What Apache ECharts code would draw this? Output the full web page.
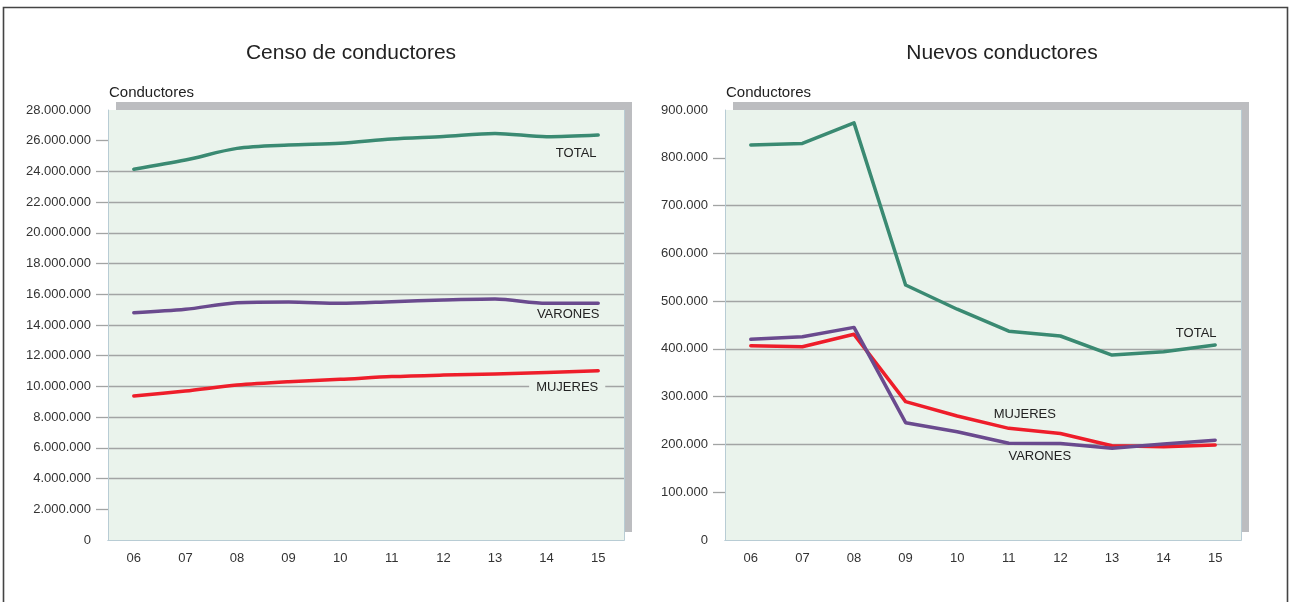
<!DOCTYPE html>
<html>
<head>
<meta charset="utf-8">
<script src="https://cdn.jsdelivr.net/npm/echarts@6/dist/echarts.min.js"></script>
<style>
html,body{margin:0;padding:0;background:#fff;}
#c{width:1290px;height:602px;}
</style>
</head>
<body>
<div id="c"></div>
<script>
// ---- data ----
const years = ['06', '07', '08', '09', '10', '11', '12', '13', '14', '15'];

const censoTotal   = [24140000, 24740000, 25500000, 25720000, 25830000, 26110000, 26270000, 26470000, 26260000, 26370000];
const censoVarones = [14800000, 15020000, 15450000, 15500000, 15410000, 15520000, 15630000, 15690000, 15410000, 15410000];
const censoMujeres = [9380000, 9700000, 10090000, 10310000, 10460000, 10640000, 10740000, 10810000, 10900000, 11020000];

const nuevosTotal   = [826700, 830000, 873000, 533700, 483000, 437000, 427000, 387000, 394000, 408000];
const nuevosVarones = [420000, 425600, 445000, 245600, 226700, 202400, 202000, 191900, 201000, 209000];
const nuevosMujeres = [406700, 404600, 430500, 289500, 259500, 233700, 223000, 197400, 195000, 198800];

const censoTicks  = [2000000, 4000000, 6000000, 8000000, 10000000, 12000000, 14000000, 16000000, 18000000, 20000000, 22000000, 24000000, 26000000];
const nuevosTicks = [100000, 200000, 300000, 400000, 500000, 600000, 700000, 800000];

const titles = ['Censo de conductores', 'Nuevos conductores'];
const axisName = 'Conductores';
const seriesNames = ['TOTAL', 'VARONES', 'MUJERES'];

// ---- style ----
const cGreen = '#3a8a72', cPurple = '#6a4a8e', cRed = '#ee1d2a';
const bg = '#eaf3ec';
const gridCol = '#a2a4a4';
const edgeCol = '#b8ccd4';
const fontFam = '"Liberation Sans", Arial, sans-serif';

function fmt(v) { return String(v).replace(/\B(?=(\d{3})+(?!\d))/g, '.'); }

function yAxis(idx, max, interval, ticks) {
  return {
    type: 'value', gridIndex: idx, min: 0, max: max, interval: interval,
    name: axisName, nameLocation: 'end', nameGap: 10,
    nameTextStyle: { align: 'left', fontSize: 15, color: '#222', fontFamily: fontFam, padding: [0, 0, 0, 1] },
    axisLine: { show: true, lineStyle: { color: edgeCol, width: 1 } },
    axisTick: { show: true, length: 12, lineStyle: { color: gridCol, width: 1.3 }, customValues: ticks },
    axisLabel: { fontSize: 13, color: '#333', fontFamily: fontFam, margin: 17, formatter: fmt },
    splitLine: { show: true, showMinLine: false, showMaxLine: false, lineStyle: { color: gridCol, width: 1.3 } },
    z: 2
  };
}
function yAxisEdge(idx, max) {
  return {
    type: 'value', gridIndex: idx, min: 0, max: max, position: 'right',
    axisLine: { show: true, lineStyle: { color: edgeCol, width: 1 } },
    axisTick: { show: false }, axisLabel: { show: false }, splitLine: { show: false }
  };
}
function xAxis(idx) {
  return {
    type: 'category', gridIndex: idx, data: years, boundaryGap: true,
    axisLine: { show: true, lineStyle: { color: edgeCol, width: 1 } }, axisTick: { show: false },
    axisLabel: { fontSize: 13, color: '#333', fontFamily: fontFam, margin: 12 },
    splitLine: { show: false }
  };
}
function xAxisEdge(idx) {
  return {
    type: 'category', gridIndex: idx, data: years, position: 'top',
    axisLine: { show: true, lineStyle: { color: edgeCol, width: 1 } },
    axisTick: { show: false }, axisLabel: { show: false }, splitLine: { show: false }
  };
}
function gridBox(left) {
  return {
    show: true, left: left, top: 110, width: 516, height: 430,
    backgroundColor: bg, borderWidth: 0,
    shadowColor: '#bcbdc0', shadowBlur: 0, shadowOffsetX: 8, shadowOffsetY: -8
  };
}
function lbl(name, coord, offset, extra) {
  return {
    coord: coord, symbol: 'circle', symbolSize: 0,
    label: Object.assign({ show: true, formatter: name, position: 'inside', offset: offset,
      fontSize: 13, color: '#222', fontFamily: fontFam }, extra || {})
  };
}
function line(name, xi, data, color, smooth, mark) {
  return {
    name: name, type: 'line', xAxisIndex: xi, yAxisIndex: xi, data: data,
    smooth: smooth, symbol: 'none', lineStyle: { color: color, width: 3.5, cap: 'round', join: 'round' },
    itemStyle: { color: color },
    markPoint: { silent: true, animation: false, data: [mark] },
    z: 3
  };
}

const chart = echarts.init(document.getElementById('c'), null, { renderer: 'canvas' });
chart.setOption({
  animation: false,
  backgroundColor: '#fff',
  title: [
    { text: titles[0], left: 351, top: 43, textAlign: 'center', padding: 0,
      textStyle: { fontSize: 21, fontWeight: 'normal', color: '#222', fontFamily: fontFam } },
    { text: titles[1], left: 1002, top: 43, textAlign: 'center', padding: 0,
      textStyle: { fontSize: 21, fontWeight: 'normal', color: '#222', fontFamily: fontFam } }
  ],
  graphic: [{
    type: 'rect', z: -10, silent: true,
    shape: { x: 3.5, y: 7.5, width: 1284, height: 700 },
    style: { fill: 'none', stroke: '#444', lineWidth: 1.6 }
  }],
  grid: [gridBox(108), gridBox(725)],
  xAxis: [xAxis(0), xAxis(1), xAxisEdge(0), xAxisEdge(1)],
  yAxis: [yAxis(0, 28000000, 2000000, censoTicks), yAxis(1, 900000, 100000, nuevosTicks),
          yAxisEdge(0, 28000000), yAxisEdge(1, 900000)],
  series: [
    line(seriesNames[0], 0, censoTotal, cGreen, 0.3, lbl(seriesNames[0], [years[9], censoTotal[9]], [-22, 18])),
    line(seriesNames[1], 0, censoVarones, cPurple, 0.3, lbl(seriesNames[1], [years[9], censoVarones[9]], [-30, 11])),
    line(seriesNames[2], 0, censoMujeres, cRed, 0.3, lbl(seriesNames[2], [years[9], censoMujeres[9]], [-31, 17],
      { backgroundColor: bg, padding: [1, 7] })),
    line(seriesNames[0], 1, nuevosTotal, cGreen, false, lbl(seriesNames[0], [years[9], nuevosTotal[9]], [-19, -12])),
    line(seriesNames[2], 1, nuevosMujeres, cRed, false, lbl(seriesNames[2], [years[5], nuevosMujeres[5]], [16, -14])),
    line(seriesNames[1], 1, nuevosVarones, cPurple, false, lbl(seriesNames[1], [years[5], nuevosVarones[5]], [31, 13]))
  ]
});
</script>
</body>
</html>
